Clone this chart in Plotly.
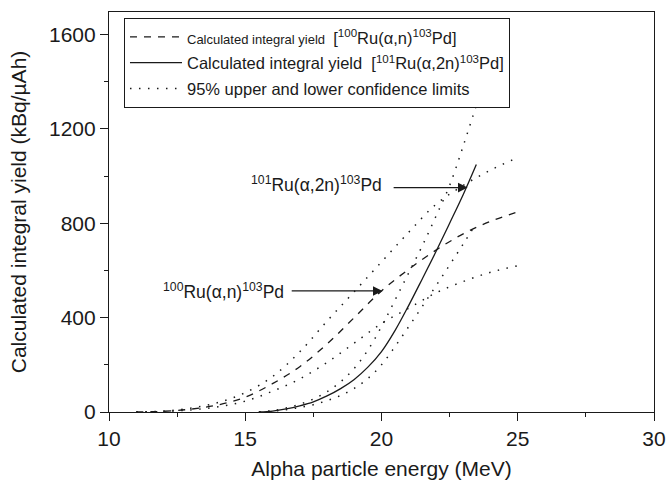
import plotly.graph_objects as go

# ---- data ----
energy_100 = [11, 12, 13, 14, 15, 16, 17, 18, 19, 20, 21, 22, 23, 24, 25]
yield_100 = [0, 3, 12, 30, 63, 120, 192, 288, 400, 513, 605, 686, 755, 808, 848]
upper_100 = [0, 4, 16, 40, 82, 150, 255, 385, 510, 636, 762, 880, 960, 1025, 1078]
lower_100 = [0, 2, 9, 22, 46, 88, 140, 210, 292, 375, 440, 505, 553, 592, 620]

energy_101 = [15.5, 16, 16.5, 17, 17.5, 18, 18.5, 19, 19.5, 20, 20.5, 21, 21.5, 22, 22.5, 23, 23.48]
yield_101 = [0, 4, 13, 26, 43, 68, 99, 138, 190, 256, 346, 452, 565, 680, 800, 922, 1049]
upper_101 = [0, 6, 17, 33, 55, 86, 128, 185, 262, 362, 475, 590, 705, 830, 960, 1128, 1300]
lower_101 = [0, 3, 10, 19, 31, 48, 70, 100, 142, 200, 278, 362, 448, 535, 623, 712, 800]

x_ticks = [10, 15, 20, 25, 30]
y_ticks = [0, 400, 800, 1200, 1600]

FONT = "Liberation Sans, Arial, Helvetica, sans-serif"
INK = "#1a1a1a"

def sized(txt, px):
    return '<span style="font-size:%spx">%s</span>' % (px, txt)

fig = go.Figure()
fig.add_trace(go.Scatter(
    x=energy_100, y=yield_100, mode="lines", line_shape="spline",
    line=dict(color=INK, width=1.3, dash="7px,7px"),
    name=sized("Calculated integral yield ", 13)
         + sized(" [<sup>100</sup>Ru(α,n)<sup>103</sup>Pd]", 16.5)))
fig.add_trace(go.Scatter(
    x=energy_101, y=yield_101, mode="lines", line_shape="spline",
    line=dict(color=INK, width=1.3),
    name=sized("Calculated integral yield  [<sup>101</sup>Ru(α,2n)<sup>103</sup>Pd]", 16.5)))
for i, (xx, yy) in enumerate([(energy_100, upper_100), (energy_100, lower_100),
                              (energy_101, upper_101), (energy_101, lower_101)]):
    fig.add_trace(go.Scatter(
        x=xx, y=yy, mode="lines", line_shape="spline",
        line=dict(color=INK, width=1.5, dash="1.5px,7.5px"),
        name=sized("95% upper and lower confidence limits", 16.5),
        legendgroup="ci", showlegend=(i == 0)))

# annotations: labels and arrows
fig.add_annotation(x=20.1, y=965, xref="x", yref="y", showarrow=False,
                   xanchor="right", yanchor="middle",
                   text="<sup>101</sup>Ru(α,2n)<sup>103</sup>Pd",
                   font=dict(family=FONT, size=17.5, color=INK))
fig.add_annotation(x=16.5, y=511, xref="x", yref="y", showarrow=False,
                   xanchor="right", yanchor="middle",
                   text="<sup>100</sup>Ru(α,n)<sup>103</sup>Pd",
                   font=dict(family=FONT, size=17.5, color=INK))
fig.add_annotation(x=23.16, y=951, ax=20.39, ay=951, xref="x", yref="y",
                   axref="x", ayref="y", text="", showarrow=True,
                   arrowhead=2, arrowsize=1.6, arrowwidth=1.2, arrowcolor=INK)
fig.add_annotation(x=20.04, y=513, ax=16.65, ay=513, xref="x", yref="y",
                   axref="x", ayref="y", text="", showarrow=True,
                   arrowhead=2, arrowsize=1.6, arrowwidth=1.2, arrowcolor=INK)

fig.update_layout(
    width=668, height=481,
    margin=dict(l=109, r=14, t=12, b=69),
    plot_bgcolor="white", paper_bgcolor="white",
    font=dict(family=FONT, color=INK),
    showlegend=True,
    legend=dict(x=0.0275, y=0.985, xanchor="left", yanchor="top",
                bgcolor="white", bordercolor=INK, borderwidth=1,
                font=dict(family=FONT, size=17.5, color=INK),
                itemwidth=52, tracegroupgap=0),
)
fig.update_xaxes(
    range=[10, 30], tickvals=x_ticks, ticks="outside", ticklen=8, tickwidth=1,
    tickcolor=INK, minor=dict(dtick=2.5, tick0=10, ticks="outside", ticklen=4, tickcolor=INK),
    showline=True, linecolor=INK, linewidth=1.2, mirror=True, automargin=False,
    showgrid=False, zeroline=False, tickfont=dict(size=21),
    title=dict(text="Alpha particle energy (MeV)", font=dict(size=21), standoff=12))
fig.update_yaxes(
    range=[0, 1695], tickvals=y_ticks, ticks="outside", ticklen=8, tickwidth=1,
    tickcolor=INK, minor=dict(dtick=200, tick0=0, ticks="outside", ticklen=4, tickcolor=INK),
    showline=True, linecolor=INK, linewidth=1.2, mirror=True, automargin=False,
    showgrid=False, zeroline=False, tickfont=dict(size=21),
    title=dict(text="Calculated integral yield (kBq/µAh)", font=dict(size=21), standoff=16))

fig.write_html("out.html")
